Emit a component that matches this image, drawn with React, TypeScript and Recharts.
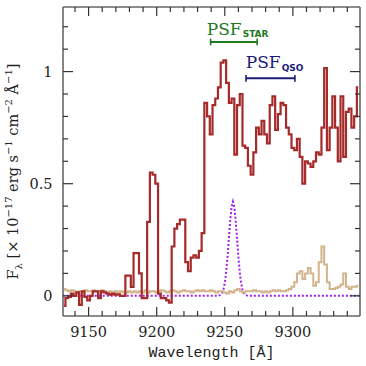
import { LineChart, Line, XAxis, YAxis, ReferenceLine, ReferenceDot } from "recharts";

// observed spectrum, 2 A bins
const WAVE = [
  9132, 9134, 9136, 9138, 9140, 9142, 9144, 9146, 9148, 9150, 9152, 9154, 9156, 9158, 9160, 9162,
  9164, 9166, 9168, 9170, 9172, 9174, 9176, 9178, 9180, 9182, 9184, 9186, 9188, 9190, 9192, 9194,
  9196, 9198, 9200, 9202, 9204, 9206, 9208, 9210, 9212, 9214, 9216, 9218, 9220, 9222, 9224, 9226,
  9228, 9230, 9232, 9234, 9236, 9238, 9240, 9242, 9244, 9246, 9248, 9250, 9252, 9254, 9256, 9258,
  9260, 9262, 9264, 9266, 9268, 9270, 9272, 9274, 9276, 9278, 9280, 9282, 9284, 9286, 9288, 9290,
  9292, 9294, 9296, 9298, 9300, 9302, 9304, 9306, 9308, 9310, 9312, 9314, 9316, 9318, 9320, 9322,
  9324, 9326, 9328, 9330, 9332, 9334, 9336, 9338, 9340, 9342, 9344, 9346, 9348,
];

const FLUX = [
  -0.045, -0.01, -0.005, 0.01, 0.0, 0.015, -0.04, 0.02, -0.005, -0.02, 0.0, 0.02, 0.02, -0.01, 0.02, 0.015,
  0.01, 0.005, 0.01, 0.005, 0.007, 0.0, 0.0, 0.09, 0.09, 0.04, 0.19, 0.19, 0.1, -0.01, -0.01, 0.33,
  0.55, 0.54, 0.5, 0.01, -0.01, -0.01, -0.02, -0.03, 0.22, 0.3, 0.32, 0.34, 0.34, 0.15, 0.11, 0.17,
  0.18, 0.17, 0.2, 0.28, 0.86, 0.8, 0.72, 0.85, 0.88, 0.93, 1.04, 1.05, 0.95, 0.86, 0.88, 0.63,
  0.85, 0.9, 0.67, 0.66, 0.58, 0.54, 0.64, 0.75, 0.72, 0.78, 0.72, 0.68, 0.85, 0.89, 0.74, 0.81,
  0.86, 0.85, 0.75, 0.72, 0.66, 0.65, 0.7, 0.62, 0.5, 0.6, 0.59, 0.575, 0.6, 0.64, 0.63, 0.75,
  1.015, 0.65, 0.75, 0.89, 0.75, 0.6, 0.89, 0.62, 0.82, 0.835, 0.75, 0.8, 0.93,
];

const NOISE = [
  0.03, 0.025, 0.02, 0.025, 0.02, 0.015, 0.02, 0.02, 0.025, 0.02, 0.02, 0.025, 0.02, 0.02, 0.025, 0.02,
  0.015, 0.02, 0.015, 0.02, 0.015, 0.02, 0.015, 0.015, 0.02, 0.015, 0.02, 0.015, 0.02, 0.015, 0.025, 0.015,
  0.02, 0.02, 0.015, 0.02, 0.025, 0.02, 0.015, 0.02, 0.025, 0.02, 0.015, 0.02, 0.025, 0.02, 0.02, 0.015,
  0.02, 0.025, 0.02, 0.025, 0.02, 0.02, 0.025, 0.02, 0.015, 0.02, 0.02, 0.015, 0.01, 0.02, 0.015, 0.025,
  0.03, 0.02, 0.015, 0.02, 0.02, 0.02, 0.025, 0.02, 0.02, 0.015, 0.02, 0.015, 0.02, 0.025, 0.02, 0.025,
  0.02, 0.02, 0.025, 0.03, 0.04, 0.06, 0.1, 0.11, 0.075, 0.1, 0.124, 0.1, 0.045, 0.06, 0.15, 0.22,
  0.14, 0.06, 0.03, 0.03, 0.035, 0.04, 0.05, 0.1, 0.04, 0.03, 0.04, 0.04, 0.045,
];

// line profile (dotted)
const PROFILE_WAVE = [
  9131, 9245, 9246, 9247, 9248, 9249, 9250, 9251, 9252, 9253, 9254, 9255, 9256, 9257, 9258, 9259,
  9260, 9261, 9262, 9263, 9264, 9265, 9266, 9267, 9349,
];
const PROFILE_FLUX = [
  0, 0, 0.002, 0.005, 0.012, 0.028, 0.057, 0.105, 0.173, 0.255, 0.336, 0.397, 0.42, 0.397, 0.336, 0.255,
  0.173, 0.105, 0.057, 0.028, 0.012, 0.005, 0.002, 0, 0,
];

const X_TICKS = [
  9140, 9150, 9160, 9170, 9180, 9190, 9200, 9210, 9220, 9230, 9240, 9250, 9260, 9270, 9280, 9290,
  9300, 9310, 9320, 9330, 9340,
];
const Y_TICKS = [0, 0.1, 0.2, 0.3, 0.4, 0.5, 0.6, 0.7, 0.8, 0.9, 1, 1.1, 1.2];

const GREEN = "#1f7a1f";
const NAVY = "#1c1c78";

const PSF_BARS = [
  { from: 9239.6, to: 9273.8, f: 1.132, color: GREEN },
  { from: 9265.6, to: 9301.5, f: 0.97, color: NAVY },
];
const PSF_LABELS = [
  { sub: "STAR", w: 9236.8, f: 1.164, color: GREEN },
  { sub: "QSO", w: 9265.4, f: 1.015, color: NAVY },
];

const spectrum = WAVE.map((w, i) => ({ w, flux: FLUX[i], noise: NOISE[i] }));
const profile = PROFILE_WAVE.map((w, i) => ({ w, flux: PROFILE_FLUX[i] }));

const INK = "#333";
const FRAME = { stroke: "#666", strokeWidth: 1.6 };
const SERIF = "DejaVu Serif";

const isMajorX = (v: number) => v % 50 === 0;
const isMajorY = (v: number) => Math.abs(v * 2 - Math.round(v * 2)) < 1e-6;

function BottomTick(props: any) {
  const { x, y, payload } = props;
  const major = isMajorX(payload.value);
  return (
    <g>
      <line x1={x} x2={x} y1={y} y2={y - (major ? 9 : 5)} stroke={INK} strokeWidth={1.2} />
      {major && (
        <text x={x} y={y + 20.5} textAnchor="middle" fontFamily={SERIF} fontSize={14.5} fill="#222">
          {payload.value}
        </text>
      )}
    </g>
  );
}

function TopTick(props: any) {
  const { x, y, payload } = props;
  const major = isMajorX(payload.value);
  return <line x1={x} x2={x} y1={y} y2={y + (major ? 9 : 5)} stroke={INK} strokeWidth={1.2} />;
}

function LeftTick(props: any) {
  const { x, y, payload } = props;
  const major = isMajorY(payload.value);
  return (
    <g>
      <line x1={x} x2={x + (major ? 10 : 5)} y1={y} y2={y} stroke={INK} strokeWidth={1.2} />
      {major && (
        <text x={x - 10.5} y={y + 5.3} textAnchor="end" fontFamily={SERIF} fontSize={14.5} fill="#222">
          {String(payload.value)}
        </text>
      )}
    </g>
  );
}

function RightTick(props: any) {
  const { x, y, payload } = props;
  const major = isMajorY(payload.value);
  return <line x1={x} x2={x - (major ? 10 : 5)} y1={y} y2={y} stroke={INK} strokeWidth={1.2} />;
}

function XTitle(props: any) {
  const vb = props.viewBox;
  return (
    <text x={vb.x + vb.width / 2} y={vb.y + 41} textAnchor="middle" fontFamily="Liberation Mono" fontSize={15} fill="#222">
      Wavelength [Å]
    </text>
  );
}

function YTitle(props: any) {
  const vb = props.viewBox;
  const cx = vb.x - 44;
  const cy = vb.y + vb.height / 2 + 10;
  const sup = { fontSize: 10, dy: -6 };
  return (
    <text transform={`translate(${cx},${cy}) rotate(-90)`} textAnchor="middle" fontFamily={SERIF} fontSize={14.5} fill="#222">
      <tspan>F</tspan>
      <tspan fontSize={10} dy={4}>λ</tspan>
      <tspan dy={-4}> [× 10</tspan>
      <tspan {...sup}>−17</tspan>
      <tspan dy={6}> erg s</tspan>
      <tspan {...sup}>−1</tspan>
      <tspan dy={6}> cm</tspan>
      <tspan {...sup}>−2</tspan>
      <tspan dy={6}> Å</tspan>
      <tspan {...sup}>−1</tspan>
      <tspan dy={6}>]</tspan>
    </text>
  );
}

function psfLabel(sub: string, color: string) {
  return (props: any) => {
    const vb = props.viewBox;
    return (
      <text x={vb.x} y={vb.y} fill={color} fontFamily={SERIF} fontSize={17}>
        <tspan>PSF</tspan>
        <tspan dx={1} dy={2.5} fontSize={9} fontWeight="bold" fontFamily="DejaVu Sans">
          {sub}
        </tspan>
      </text>
    );
  };
}

export default function App() {
  return (
    <div style={{ position: "absolute", left: 0, top: 0, background: "#fff" }}>
      <LineChart width={366} height={366} data={spectrum} margin={{ top: 6, right: 5, bottom: 49, left: 62 }}>
        <XAxis
          type="number"
          dataKey="w"
          domain={[9131.2, 9349.3]}
          allowDataOverflow
          ticks={X_TICKS}
          interval={0}
          height={1}
          tickSize={0}
          tickMargin={0}
          tickLine={false}
          tick={BottomTick}
          axisLine={FRAME}
          label={{ content: XTitle }}
        />
        <XAxis
          xAxisId="top"
          orientation="top"
          type="number"
          dataKey="w"
          domain={[9131.2, 9349.3]}
          allowDataOverflow
          ticks={X_TICKS}
          interval={0}
          height={1}
          tickSize={0}
          tickMargin={0}
          tickLine={false}
          tick={TopTick}
          axisLine={FRAME}
        />
        <YAxis
          type="number"
          domain={[-0.09, 1.288]}
          allowDataOverflow
          ticks={Y_TICKS}
          interval={0}
          width={1}
          tickSize={0}
          tickMargin={0}
          tickLine={false}
          tick={LeftTick}
          axisLine={FRAME}
          label={{ content: YTitle }}
        />
        <YAxis
          yAxisId="right"
          orientation="right"
          type="number"
          domain={[-0.09, 1.288]}
          allowDataOverflow
          ticks={Y_TICKS}
          interval={0}
          width={1}
          tickSize={0}
          tickMargin={0}
          tickLine={false}
          tick={RightTick}
          axisLine={FRAME}
        />
        <Line
          data={profile}
          dataKey="flux"
          type="linear"
          stroke="#a020f0"
          strokeWidth={2}
          strokeDasharray="2 2"
          dot={false}
          isAnimationActive={false}
        />
        <Line dataKey="noise" type="step" stroke="#d2b48c" strokeWidth={2} dot={false} isAnimationActive={false} />
        <Line dataKey="flux" type="step" stroke="#a52a2a" strokeWidth={2.2} dot={false} isAnimationActive={false} />
        {PSF_BARS.map((b) => (
          <ReferenceLine
            key={`bar-${b.from}`}
            segment={[{ x: b.from, y: b.f }, { x: b.to, y: b.f }]}
            stroke={b.color}
            strokeWidth={2}
          />
        ))}
        {PSF_BARS.flatMap((b) =>
          [b.from, b.to].map((x) => (
            <ReferenceLine
              key={`cap-${x}`}
              segment={[{ x, y: b.f - 0.015 }, { x, y: b.f + 0.015 }]}
              stroke={b.color}
              strokeWidth={1.6}
            />
          ))
        )}
        {PSF_LABELS.map((p) => (
          <ReferenceDot
            key={p.sub}
            x={p.w}
            y={p.f}
            r={0.01}
            fill="none"
            stroke="none"
            label={psfLabel(p.sub, p.color)}
          />
        ))}
      </LineChart>
    </div>
  );
}
